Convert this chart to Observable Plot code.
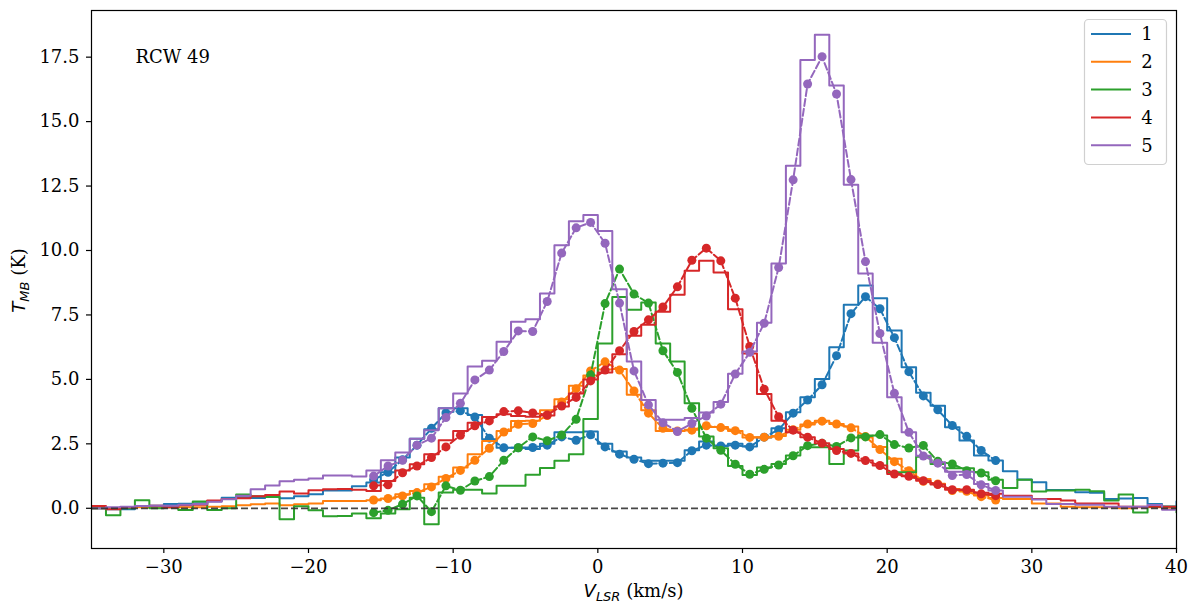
<!DOCTYPE html>
<html><head><meta charset="utf-8">
<script src="https://cdn.jsdelivr.net/npm/d3@7"></script>
<script src="https://cdn.jsdelivr.net/npm/@observablehq/plot@0.6"></script>
<style>
html,body{margin:0;padding:0;background:#fff;}
#chart{width:1198px;height:614px;}
</style>
</head><body><div id="chart"></div>
<script>
// velocity channels (km/s) of the observed spectra
const stepVel = [
 -35.5,-34.5,-33.5,-32.5,-31.5,-30.5,-29.5,-28.5,-27.5,-26.5,
 -25.5,-24.5,-23.5,-22.5,-21.5,-20.5,-19.5,-18.5,-17.5,-16.5,
 -15.5,-14.5,-13.5,-12.5,-11.5,-10.5,-9.5,-8.5,-7.5,-6.5,
 -5.5,-4.5,-3.5,-2.5,-1.5,-0.5,0.5,1.5,2.5,3.5,
 4.5,5.5,6.5,7.5,8.5,9.5,10.5,11.5,12.5,13.5,
 14.5,15.5,16.5,17.5,18.5,19.5,20.5,21.5,22.5,23.5,
 24.5,25.5,26.5,27.5,28.5,29.5,30.5,31.5,32.5,33.5,
 34.5,35.5,36.5,37.5,38.5,39.5,40.5];
// velocity channels of the fitted model points
const fitVel = [
 -15.5,-14.5,-13.5,-12.5,-11.5,-10.5,-9.5,-8.5,-7.5,-6.5,
 -5.5,-4.5,-3.5,-2.5,-1.5,-0.5,0.5,1.5,2.5,3.5,
 4.5,5.5,6.5,7.5,8.5,9.5,10.5,11.5,12.5,13.5,
 14.5,15.5,16.5,17.5,18.5,19.5,20.5,21.5,22.5,23.5,
 24.5,25.5,26.5,27.5];

const seriesNames = ["1","2","3","4","5"];
const seriesColors = ["#1f77b4","#ff7f0e","#2ca02c","#d62728","#9467bd"];

// observed T_MB (K), step histograms
const step1 = [
 0.0,0.0,-0.04,-0.04,0.09,0.1,0.17,0.18,0.2,0.27,
 0.41,0.43,0.4,0.47,0.39,0.47,0.54,0.69,0.69,0.85,
 1.0,1.4,1.97,2.7,3.07,3.88,3.88,3.62,2.68,2.35,
 2.35,2.3,2.5,2.95,2.95,2.98,2.5,2.2,1.97,1.84,
 1.84,1.84,2.25,2.59,2.42,2.5,2.4,2.75,3.1,3.73,
 4.31,5.02,6.25,7.9,8.64,8.15,6.9,5.47,4.48,3.98,
 3.14,2.63,2.05,1.85,1.44,1.12,1.01,0.71,0.71,0.62,
 0.6,0.36,0.38,0.4,0.17,0.07,0.27];
const step2 = [
 0.0,0.0,0.0,0.04,0.04,0.04,0.04,0.04,0.04,0.06,
 0.08,0.12,0.16,0.19,0.12,0.16,0.19,0.28,0.28,0.28,
 0.31,0.38,0.54,0.67,0.93,1.22,1.58,2.1,2.61,3.0,
 3.39,3.4,3.8,4.23,4.75,5.15,5.38,5.4,4.4,3.8,
 3.0,3.0,3.05,3.15,3.15,3.0,2.75,2.75,2.8,3.05,
 3.25,3.4,3.27,3.17,2.75,2.38,1.92,1.46,1.14,0.95,
 0.75,0.65,0.5,0.4,0.36,0.36,0.19,0.19,0.06,0.04,
 0.04,0.04,0.0,0.04,0.04,0.02,0.02];
const step3 = [
 0.0,0.0,-0.27,0.0,0.31,0.0,0.04,-0.07,0.26,-0.07,
 0.0,0.53,0.47,0.44,-0.43,0.08,-0.08,-0.31,-0.3,-0.2,
 -0.39,-0.2,-0.04,0.41,-0.62,0.61,0.72,0.72,0.57,0.87,
 0.87,1.3,1.56,1.84,2.1,3.46,6.39,8.2,7.7,7.98,
 6.39,5.69,4.07,2.78,2.33,1.64,1.29,1.58,1.72,2.05,
 2.37,2.37,1.72,2.24,2.82,2.82,1.4,1.4,2.0,1.72,
 1.55,1.55,1.4,1.11,0.79,1.11,0.65,0.69,0.69,0.72,
 0.66,0.3,0.53,-0.16,0.06,0.06,-0.16];
const step4 = [
 0.09,0.09,-0.04,0.04,0.09,0.1,0.04,0.12,0.14,0.3,
 0.36,0.39,0.47,0.52,0.65,0.57,0.7,0.74,0.75,0.72,
 0.67,1.06,1.47,1.71,2.1,2.64,3.0,3.32,3.54,3.65,
 3.58,3.55,3.6,3.95,4.45,5.0,5.27,5.98,6.69,7.12,
 7.62,8.28,9.21,9.6,9.15,7.72,6.0,4.43,3.4,2.95,
 2.76,2.52,2.3,2.13,1.85,1.66,1.33,1.24,1.07,0.92,
 0.72,0.72,0.6,0.56,0.49,0.49,0.36,0.36,0.3,0.19,
 0.19,0.19,0.06,0.06,0.06,0.06,0.06];
const step5 = [
 0.0,0.0,0.04,0.06,0.09,0.1,0.1,0.14,0.17,0.25,
 0.35,0.49,0.74,0.88,1.05,1.11,1.16,1.27,1.27,1.23,
 1.47,1.86,2.16,2.7,3.03,3.88,4.45,5.5,5.72,6.46,
 7.24,7.33,8.33,10.2,11.13,11.38,10.76,8.5,5.69,4.2,
 3.43,3.43,3.5,3.72,4.12,5.22,6.08,7.2,9.5,13.29,
 17.39,18.37,16.4,12.55,9.11,6.42,4.31,2.95,2.04,1.79,
 1.42,1.42,0.94,0.69,0.45,0.45,0.34,0.17,0.17,0.14,
 0.14,0.06,0.06,0.06,0.13,-0.06,-0.06];

// fitted model T_MB (K), dashed lines with markers
const fit1 = [
 1.1,1.4,1.88,2.45,3.1,3.7,3.78,3.54,2.72,2.35,
 2.35,2.36,2.45,2.77,2.64,2.85,2.38,2.1,1.9,1.73,
 1.75,1.77,2.23,2.45,2.42,2.45,2.38,2.76,3.05,3.69,
 4.2,4.79,5.92,7.55,8.21,7.74,6.62,5.3,4.36,3.82,
 3.21,2.79,2.24,1.85];
const fit2 = [
 0.32,0.38,0.48,0.61,0.83,1.16,1.47,1.86,2.33,2.96,
 3.26,3.29,3.6,4.12,4.64,5.33,5.68,5.36,4.55,3.69,
 3.1,3.0,3.03,3.2,3.13,3.01,2.75,2.76,2.79,3.05,
 3.27,3.38,3.27,3.12,2.78,2.28,1.81,1.46,1.05,0.94,
 0.69,0.66,0.45,0.32];
const fit3 = [
 -0.17,-0.08,0.16,0.48,-0.13,0.87,0.7,1.06,1.23,1.86,
 2.35,2.77,2.62,2.84,3.45,5.17,7.94,9.28,8.31,7.96,
 6.11,5.27,3.88,2.72,2.25,1.71,1.32,1.51,1.68,2.04,
 2.43,2.52,2.4,2.73,2.77,2.86,2.47,2.34,2.44,1.82,
 1.72,1.46,1.37,1.07];
const fit4 = [
 0.87,0.91,1.38,1.64,1.97,2.38,2.83,3.2,3.39,3.75,
 3.78,3.7,3.62,3.97,4.3,4.94,5.36,6.11,6.86,7.31,
 7.81,8.59,9.62,10.09,9.6,8.15,6.28,4.62,3.55,3.03,
 2.76,2.52,2.24,2.13,1.85,1.66,1.33,1.24,1.07,0.92,
 0.72,0.72,0.56,0.49];
const fit5 = [
 1.25,1.64,1.86,2.45,2.72,3.52,4.07,4.98,5.36,6.08,
 6.88,6.86,8.02,9.9,10.88,11.09,10.28,7.96,5.33,4.01,
 3.32,2.98,3.29,3.58,4.04,5.21,6.05,7.18,9.34,12.74,
 16.46,17.52,16.07,12.75,9.57,6.78,4.46,2.95,2.03,1.75,
 1.27,1.31,0.91,0.69];

const xTicks = [-30,-20,-10,0,10,20,30,40];
const yTicks = [0,2.5,5,7.5,10,12.5,15,17.5];
const sourceName = ["RCW 49"];

const steps = [step1, step2, step3, step4, step5];
const fits = [fit1, fit2, fit3, fit4, fit5];

const W = 1198, H = 614, mL = 91, mR = 22, mT = 10, mB = 66;
const serif = "'DejaVu Serif', 'Liberation Serif', serif";

const seriesMarks = [];
seriesNames.forEach((name, i) => {
  const sd = stepVel.map((v, k) => ({v, t: steps[i][k], s: name}));
  const fd = fitVel.map((v, k) => ({v, t: fits[i][k], s: name}));
  seriesMarks.push(Plot.line(sd, {x: "v", y: "t", curve: "step", stroke: seriesColors[i], strokeWidth: 2, clip: true}));
  seriesMarks.push(Plot.line(fd, {x: "v", y: "t", stroke: seriesColors[i], strokeWidth: 2, strokeDasharray: "7,3"}));
  seriesMarks.push(Plot.dot(fd, {x: "v", y: "t", r: 4.5, fill: seriesColors[i], stroke: "none"}));
});

const chart = Plot.plot({
  width: W, height: H,
  marginLeft: mL, marginRight: mR, marginTop: mT, marginBottom: mB,
  x: {domain: [-35, 40]},
  y: {domain: [-1.56, 19.31]},
  style: {fontFamily: serif, fontSize: "18px", color: "black", background: "white"},
  marks: [
    Plot.axisX({ticks: xTicks, tickSize: 5, tickPadding: 7, strokeWidth: 1.2, label: null, fontSize: 18}),
    Plot.axisY({ticks: yTicks, tickSize: 5, tickPadding: 7, strokeWidth: 1.2, tickFormat: d3.format(".1f"), label: null, fontSize: 18}),
    ...seriesMarks,
    Plot.ruleY([0], {stroke: "#333", strokeOpacity: 0.9, strokeWidth: 1.8, strokeDasharray: "7,3"}),
    Plot.frame({stroke: "black", strokeWidth: 1.2}),
    Plot.text(sourceName, {text: d => d, frameAnchor: "top-left", dx: 44, dy: 40, textAnchor: "start", fontSize: 18, fill: "black"})
  ]
});

const svg = d3.select(chart);
const cx = (mL + W - mR) / 2;
const cy = (mT + H - mB) / 2;

// x axis label  V_LSR (km/s)
const xl = svg.append("text").attr("x", cx).attr("y", 597).attr("text-anchor", "middle")
  .attr("font-family", serif).attr("font-size", 18).attr("fill", "black");
xl.append("tspan").attr("font-family", "'DejaVu Sans', sans-serif").attr("font-style", "italic").text("V");
xl.append("tspan").attr("font-family", "'DejaVu Sans', sans-serif").attr("font-style", "italic").attr("font-size", 13).attr("dy", 3.5).text("LSR");
xl.append("tspan").attr("dy", -3.5).text(" (km/s)");

// y axis label  T_MB (K)
const yl = svg.append("text").attr("transform", `translate(25,${cy + 1.5}) rotate(-90)`).attr("text-anchor", "middle")
  .attr("font-family", serif).attr("font-size", 18).attr("fill", "black");
yl.append("tspan").attr("font-family", "'DejaVu Sans', sans-serif").attr("font-style", "italic").text("T");
yl.append("tspan").attr("font-family", "'DejaVu Sans', sans-serif").attr("font-style", "italic").attr("font-size", 13).attr("dy", 3.5).text("MB");
yl.append("tspan").attr("dy", -3.5).text(" (K)");

// legend
const lg = svg.append("g");
lg.append("rect").attr("x", 1084.5).attr("y", 19.5).attr("width", 82).attr("height", 145).attr("rx", 4)
  .attr("fill", "white").attr("fill-opacity", 0.8).attr("stroke", "#d0d0d0").attr("stroke-width", 1.2);
seriesNames.forEach((name, i) => {
  const y = 34 + i * 27.8;
  lg.append("line").attr("x1", 1091).attr("x2", 1131).attr("y1", y).attr("y2", y)
    .attr("stroke", seriesColors[i]).attr("stroke-width", 2);
  lg.append("text").attr("x", 1147).attr("y", y).attr("dy", "0.36em").attr("font-family", serif)
    .attr("font-size", 18).attr("fill", "black").text(name);
});

document.getElementById("chart").appendChild(chart);
</script>
</body></html>
